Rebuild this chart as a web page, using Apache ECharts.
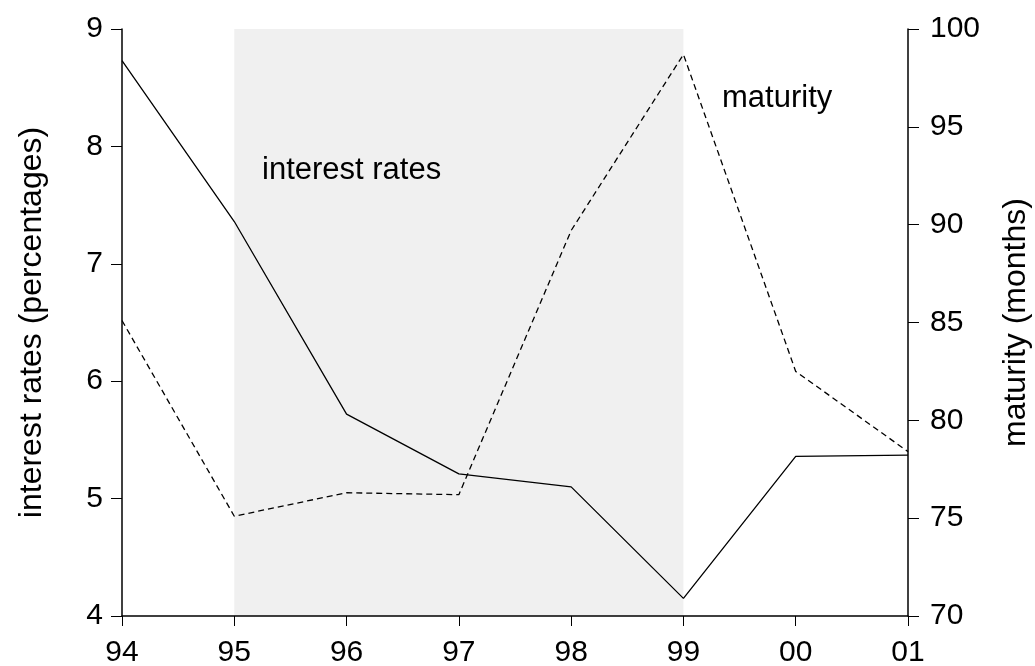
<!DOCTYPE html>
<html>
<head>
<meta charset="utf-8">
<script src="https://cdn.jsdelivr.net/npm/echarts@6/dist/echarts.min.js"></script>
<style>
  html, body { margin: 0; padding: 0; background: #fff; }
  #chart { width: 1035px; height: 666px; }
</style>
</head>
<body>
<div id="chart"></div>
<script>
var years = ['94', '95', '96', '97', '98', '99', '00', '01'];
var interestRates = [8.73, 7.36, 5.72, 5.21, 5.10, 4.15, 5.36, 5.37];
var maturity = [85.1, 75.1, 76.3, 76.2, 89.7, 98.7, 82.5, 78.4];
var shadeFrom = '95', shadeTo = '99';

var font = 'Liberation Sans, Arial, sans-serif';

var option = {
    animation: false,
    textStyle: { fontFamily: font },
    grid: { left: 122, right: 127, top: 29, bottom: 50, outerBoundsMode: 'none', containLabel: false },
    xAxis: {
        type: 'category',
        data: years,
        boundaryGap: false,
        axisLine: { lineStyle: { color: '#000', width: 1.5 } },
        axisTick: { show: true, alignWithLabel: true, length: 10, lineStyle: { color: '#000', width: 1 } },
        axisLabel: { color: '#000', fontSize: 30, margin: 22 },
        splitLine: { show: false },
        z: 5
    },
    yAxis: [
        {
            type: 'value',
            min: 4, max: 9, interval: 1,
            name: 'interest rates (percentages)',
            nameLocation: 'middle',
            nameRotate: 90,
            nameGap: 74,
            nameTextStyle: { color: '#000', fontSize: 32 },
            axisLine: { show: true, lineStyle: { color: '#000', width: 1.5 } },
            axisTick: { show: true, length: 11, lineStyle: { color: '#000', width: 1 } },
            axisLabel: { color: '#000', fontSize: 30, margin: 19 },
            splitLine: { show: false }
        },
        {
            type: 'value',
            min: 70, max: 100, interval: 5,
            position: 'right',
            name: 'maturity (months)',
            nameLocation: 'middle',
            nameRotate: 90,
            nameGap: 92,
            nameTextStyle: { color: '#000', fontSize: 32 },
            axisLine: { show: true, lineStyle: { color: '#000', width: 1.5 } },
            axisTick: { show: true, length: 11, lineStyle: { color: '#000', width: 1 } },
            axisLabel: { color: '#000', fontSize: 30, margin: 22 },
            splitLine: { show: false }
        }
    ],
    graphic: [
        { type: 'text', left: 262, top: 155, z: 10,
          style: { text: 'interest rates', fill: '#000', font: '31px ' + font } },
        { type: 'text', left: 722, top: 83, z: 10,
          style: { text: 'maturity', fill: '#000', font: '31px ' + font } }
    ],
    series: [
        {
            name: 'interest rates',
            type: 'line',
            yAxisIndex: 0,
            data: interestRates,
            symbol: 'none',
            lineStyle: { color: '#000', width: 1.3 },
            markArea: {
                silent: true,
                itemStyle: { color: '#f0f0f0' },
                data: [[{ xAxis: shadeFrom }, { xAxis: shadeTo }]]
            },
            z: 3
        },
        {
            name: 'maturity',
            type: 'line',
            yAxisIndex: 1,
            data: maturity,
            symbol: 'none',
            lineStyle: { color: '#000', width: 1.3, type: [6, 4] },
            z: 3
        }
    ]
};

var chart = echarts.init(document.getElementById('chart'));
chart.setOption(option);
</script>
</body>
</html>
